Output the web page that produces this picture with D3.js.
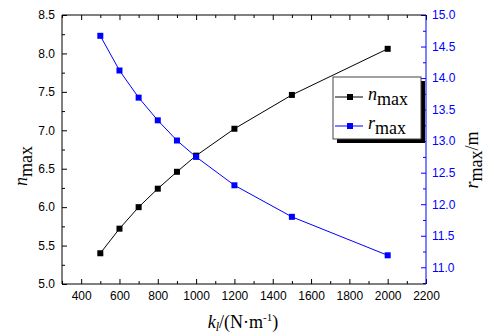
<!DOCTYPE html>
<html>
<head>
<meta charset="utf-8">
<script src="https://cdn.jsdelivr.net/npm/d3@7"></script>
<style>
  body { margin: 0; background: #fff; }
  svg { display: block; }
</style>
</head>
<body>
<svg id="chart" width="486" height="335"></svg>
<script>
// data
const kValues = [500, 600, 700, 800, 900, 1000, 1200, 1500, 2000]
const nMax = [5.40, 5.72, 6.00, 6.24, 6.46, 6.67, 7.02, 7.46, 8.06]
const rMax = [14.67, 14.12, 13.69, 13.33, 13.01, 12.75, 12.30, 11.80, 11.19]
const xTicks = [400, 600, 800, 1000, 1200, 1400, 1600, 1800, 2000, 2200]
const nTicks = [5.0, 5.5, 6.0, 6.5, 7.0, 7.5, 8.0, 8.5]
const rTicks = [11.0, 11.5, 12.0, 12.5, 13.0, 13.5, 14.0, 14.5, 15.0]

const margin = { top: 15, right: 60, bottom: 51, left: 62 }
const W = 486, H = 335
const pLeft = margin.left, pRight = W - margin.right, pTop = margin.top, pBottom = H - margin.bottom
const blue = '#0000ff'
const tickFont = '"Liberation Sans", Arial, sans-serif'
const serif = '"Liberation Serif", "Times New Roman", serif'

const svg = d3.select('#chart')

const x = d3.scaleLinear().domain([300, 2200]).range([pLeft, pRight])
const yN = d3.scaleLinear().domain([5.0, 8.5]).range([pBottom, pTop])
const yR = d3.scaleLinear().domain([10.735, 15.0]).range([pBottom, pTop])

// minor tick helpers
const range = (a, b, s) => d3.range(a, b + s / 2, s)
const xMinor = range(300, 2200, 100).filter(v => !xTicks.includes(v))
const nMinor = range(5.0, 8.5, 0.25).filter(v => Math.abs(v * 2 - Math.round(v * 2)) > 0.01)
const rMinor = range(10.75, 15.0, 0.25).filter(v => Math.abs(v * 2 - Math.round(v * 2)) > 0.01)

function styleAxis (g, color) {
  g.select('.domain').remove()
  g.selectAll('line').attr('stroke', color).attr('stroke-width', 1)
  g.selectAll('text').attr('fill', color).attr('font-family', tickFont).attr('font-size', '12px')
}

// bottom axis (ticks inward)
svg.append('g').attr('transform', `translate(0,${pBottom})`)
  .call(d3.axisBottom(x).tickValues(xTicks).tickSize(-5).tickPadding(7).tickFormat(d3.format('d')))
  .call(g => styleAxis(g, '#000'))
svg.append('g').attr('transform', `translate(0,${pBottom})`)
  .call(d3.axisBottom(x).tickValues(xMinor).tickSize(-3).tickFormat(''))
  .call(g => styleAxis(g, '#000'))

// top axis
svg.append('g').attr('transform', `translate(0,${pTop})`)
  .call(d3.axisTop(x).tickValues(xTicks).tickSize(-5).tickFormat(''))
  .call(g => styleAxis(g, '#000'))
svg.append('g').attr('transform', `translate(0,${pTop})`)
  .call(d3.axisTop(x).tickValues(xMinor).tickSize(-3).tickFormat(''))
  .call(g => styleAxis(g, '#000'))

// left axis
svg.append('g').attr('transform', `translate(${pLeft},0)`)
  .call(d3.axisLeft(yN).tickValues(nTicks).tickSize(-5).tickPadding(7).tickFormat(d3.format('.1f')))
  .call(g => styleAxis(g, '#000'))
svg.append('g').attr('transform', `translate(${pLeft},0)`)
  .call(d3.axisLeft(yN).tickValues(nMinor).tickSize(-3).tickFormat(''))
  .call(g => styleAxis(g, '#000'))

// right axis (blue)
svg.append('g').attr('transform', `translate(${pRight},0)`)
  .call(d3.axisRight(yR).tickValues(rTicks).tickSize(-5).tickPadding(6).tickFormat(d3.format('.1f')))
  .call(g => styleAxis(g, blue))
svg.append('g').attr('transform', `translate(${pRight},0)`)
  .call(d3.axisRight(yR).tickValues(rMinor).tickSize(-3).tickFormat(''))
  .call(g => styleAxis(g, blue))

// frame
svg.append('line').attr('x1', pLeft).attr('x2', pRight).attr('y1', pTop).attr('y2', pTop).attr('stroke', '#000')
svg.append('line').attr('x1', pLeft).attr('x2', pRight).attr('y1', pBottom).attr('y2', pBottom).attr('stroke', '#000')
svg.append('line').attr('x1', pLeft).attr('x2', pLeft).attr('y1', pTop).attr('y2', pBottom).attr('stroke', '#000')
svg.append('line').attr('x1', pRight).attr('x2', pRight).attr('y1', pTop).attr('y2', pBottom).attr('stroke', blue)

// series
const nData = kValues.map((k, i) => ({ k, v: nMax[i] }))
const rData = kValues.map((k, i) => ({ k, v: rMax[i] }))

function drawSeries (data, yScale, color) {
  svg.append('path').datum(data)
    .attr('d', d3.line().x(d => x(d.k)).y(d => yScale(d.v)))
    .attr('fill', 'none').attr('stroke', color).attr('stroke-width', 1)
  svg.append('g').selectAll('rect').data(data).enter().append('rect')
    .attr('x', d => x(d.k) - 3).attr('y', d => yScale(d.v) - 3)
    .attr('width', 6).attr('height', 6)
    .attr('fill', color)
}
drawSeries(nData, yN, '#000')
drawSeries(rData, yR, blue)

// legend
const lg = svg.append('g').attr('transform', 'translate(333,77)')
lg.append('rect').attr('x', 4).attr('y', 4).attr('width', 88).attr('height', 62).attr('fill', '#000')
lg.append('rect').attr('x', 0).attr('y', 0).attr('width', 88).attr('height', 62).attr('fill', '#fff').attr('stroke', '#444').attr('stroke-width', 1)
const legendItems = [{ sym: 'n', color: '#000', y: 20 }, { sym: 'r', color: blue, y: 49 }]
legendItems.forEach(it => {
  lg.append('line').attr('x1', 2).attr('x2', 30).attr('y1', it.y).attr('y2', it.y).attr('stroke', it.color)
  lg.append('rect').attr('x', 14).attr('y', it.y - 3).attr('width', 6).attr('height', 6).attr('fill', it.color)
  const t = lg.append('text').attr('x', 35).attr('y', it.y + 3).attr('font-family', serif).attr('font-size', '18px').attr('fill', '#000')
  t.append('tspan').attr('font-style', 'italic').text(it.sym)
  t.append('tspan').attr('dy', 5).text('max')
})

// axis titles
const lt = svg.append('text').attr('transform', 'translate(27,166) rotate(-90)')
  .attr('text-anchor', 'middle').attr('font-family', serif).attr('font-size', '18px')
lt.append('tspan').attr('font-style', 'italic').text('n')
lt.append('tspan').attr('dy', 5).text('max')

const rt = svg.append('text').attr('transform', 'translate(478,160) rotate(-90)')
  .attr('text-anchor', 'middle').attr('font-family', serif).attr('font-size', '18px')
rt.append('tspan').attr('font-style', 'italic').text('r')
rt.append('tspan').attr('dy', 4).text('max')
rt.append('tspan').attr('dy', -4).text('/m')

const bt = svg.append('text').attr('x', 243).attr('y', 328)
  .attr('text-anchor', 'middle').attr('font-family', serif).attr('font-size', '18px')
bt.append('tspan').attr('font-style', 'italic').text('k')
bt.append('tspan').attr('font-style', 'italic').attr('font-size', '12px').attr('dy', 3).text('l')
bt.append('tspan').attr('dy', -3).text('/(N·m')
bt.append('tspan').attr('font-size', '11px').attr('dy', -7).text('-1')
bt.append('tspan').attr('dy', 7).text(')')
</script>
</body>
</html>
